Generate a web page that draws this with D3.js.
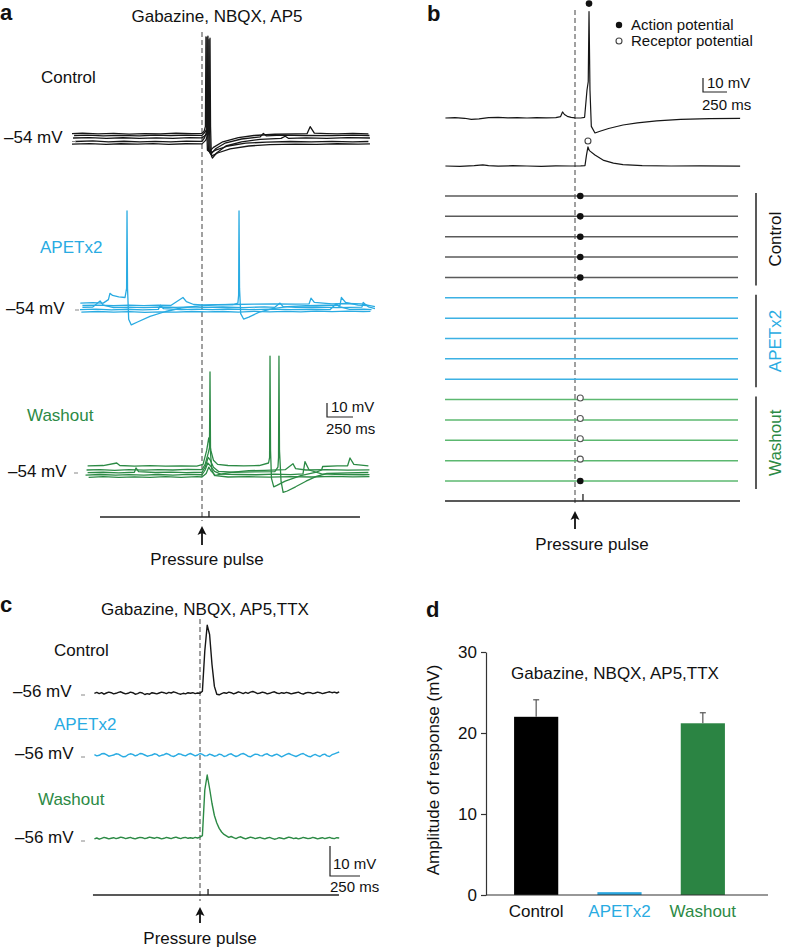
<!DOCTYPE html>
<html><head><meta charset="utf-8">
<script src="https://cdn.jsdelivr.net/npm/d3@7"></script>
<style>body{margin:0;background:#fff;} text{font-family:"Liberation Sans",Arial,Helvetica,sans-serif;}</style>
</head><body>
<script>
// ---------------- DATA ----------------
// Panel a: traces as [time (ms, pulse at 0), membrane potential (mV)]
const ctrlA = [
 [[-1250,-50.2],[-1150,-49.8],[-1000,-50.4],[-850,-50.0],[-700,-50.5],[-550,-50.1],[-400,-50.3],[-250,-49.9],[-100,-50.2],[0,-50.0],[20,-48.5],[33,-45],[38,19],[43,-40],[52,-62],[70,-63],[110,-60],[200,-56],[350,-53],[500,-51.5],[700,-50.6],[900,-50.4],[1010,-50.2],[1040,-45.2],[1080,-49.8],[1200,-50.2],[1300,-50.4],[1450,-50.0],[1600,-50.3]],
 [[-1230,-51.5],[-1100,-51.2],[-950,-51.7],[-800,-51.4],[-600,-51.8],[-450,-51.3],[-300,-51.6],[-150,-51.2],[0,-51.4],[30,-49],[52,-46],[57,19.5],[62,-40],[70,-63],[85,-65],[130,-61],[220,-57],[380,-54],[560,-52.5],[590,-50],[620,-51.8],[760,-51.3],[1000,-51.5],[1250,-51.6],[1450,-51.3],[1610,-51.5]],
 [[-1240,-53.3],[-1080,-53.0],[-920,-53.5],[-760,-53.1],[-600,-53.6],[-440,-53.2],[-280,-53.5],[-120,-53.0],[0,-53.2],[40,-51],[72,-47],[77,18],[82,-45],[90,-66],[100,-67.6],[140,-64],[230,-59],[380,-56],[560,-54.2],[760,-53.6],[800,-52],[830,-53.5],[1000,-53.2],[1200,-53.5],[1400,-53.0],[1615,-53.3]],
 [[-1220,-55.8],[-1050,-55.4],[-900,-56.0],[-750,-55.6],[-600,-56.1],[-450,-55.7],[-300,-56.0],[-150,-55.5],[0,-55.7],[25,-53],[43,-49],[48,18.5],[53,-45],[62,-62],[80,-64],[130,-62],[250,-59],[420,-57],[620,-56.2],[850,-55.8],[1050,-56.1],[1250,-55.7],[1450,-56.0],[1600,-55.8]],
 [[-1250,-57.6],[-1080,-57.3],[-920,-57.8],[-780,-57.4],[-620,-57.7],[-470,-57.3],[-320,-57.8],[-160,-57.4],[0,-57.5],[35,-55],[62,-50],[67,17],[72,-47],[80,-63],[95,-66],[150,-64],[270,-61],[450,-59],[650,-58],[900,-57.6],[1100,-57.8],[1300,-57.4],[1500,-57.7],[1615,-57.5]]
];
const apetA = [
 [[-1170,-50.5],[-1050,-50.2],[-950,-50.5],[-900,-48],[-885,-43.5],[-860,-45],[-800,-46],[-740,-46.5],[-725,-40],[-721,15.3],[-716,-40],[-705,-62],[-680,-66.1],[-620,-64],[-500,-60],[-350,-56.5],[-200,-54],[-20,-52.5],[150,-51.8],[300,-51.5],[500,-51.3],[700,-51],[900,-51.2],[1030,-51],[1048,-47],[1080,-50],[1250,-51],[1400,-50.8],[1530,-51],[1663,-53]],
 [[-1150,-52.2],[-1000,-51.9],[-850,-52.4],[-700,-52.0],[-560,-52.3],[-420,-51.9],[-300,-52.2],[-183,-46.5],[-150,-49.5],[-80,-51.5],[0,-51.8],[150,-51.6],[300,-51.5],[345,-50.5],[352,-45],[356,15.3],[361,-40],[372,-58],[400,-61.9],[450,-60.5],[550,-57],[680,-54.5],[820,-53],[1000,-52.4],[1200,-52.0],[1327,-52.2],[1340,-46.5],[1380,-50],[1500,-52],[1600,-52.3]],
 [[-1150,-53.6],[-1050,-53.3],[-980,-49],[-950,-52],[-850,-53.7],[-700,-53.4],[-560,-53.8],[-400,-53.3],[-250,-53.6],[-100,-53.2],[0,-53.5],[200,-53.3],[400,-53.7],[600,-53.2],[700,-53.5],[750,-50.5],[780,-53],[900,-53.6],[1100,-53.3],[1300,-53.7],[1538,-53.4],[1550,-50],[1600,-53.2],[1663,-54.5]],
 [[-1173,-55.1],[-1020,-54.8],[-870,-55.3],[-720,-54.9],[-570,-55.4],[-420,-55.0],[-400,-52.0],[-370,-54.5],[-200,-55.2],[-50,-54.8],[100,-55.1],[250,-54.7],[450,-55.2],[650,-54.8],[850,-55.1],[1050,-54.9],[1230,-55.2],[1290,-51],[1320,-53],[1420,-55],[1560,-54.8],[1630,-55.1]],
 [[-1160,-56.9],[-1000,-56.5],[-850,-57.0],[-700,-56.6],[-550,-57.1],[-400,-56.7],[-250,-57.0],[-100,-56.5],[50,-56.8],[200,-56.5],[350,-56.9],[500,-56.4],[650,-56.8],[800,-56.4],[950,-56.7],[1100,-56.3],[1250,-56.6],[1400,-56.2],[1550,-56.5],[1620,-56.4]]
];
const washA = [
 [[-1100,-51.1],[-950,-50.8],[-820,-49],[-790,-50.8],[-650,-51.2],[-500,-50.9],[-350,-51.3],[-200,-51.0],[-50,-51.2],[10,-50],[45,-40],[65,-31],[85,-40],[110,-47],[150,-50],[250,-50.8],[400,-51],[550,-50.8],[640,-49],[650,-45],[654,27.4],[659,-40],[668,-60],[690,-66],[720,-65],[800,-62],[950,-58],[1100,-55.5],[1150,-54],[1160,-51.5],[1300,-51],[1400,-51],[1423,-45.4],[1460,-50],[1600,-51]],
 [[-1110,-54],[-980,-53.7],[-840,-54.2],[-700,-53.8],[-560,-54.1],[-420,-53.7],[-280,-54.0],[-140,-53.6],[0,-53.8],[30,-50],[60,-42],[72,-38],[77,16],[82,-42],[95,-54],[120,-58],[180,-57],[300,-55.5],[450,-54.5],[600,-54.2],[800,-53.8],[875,-49.5],[900,-53],[1000,-54],[1200,-53.7],[1400,-54.1],[1610,-53.9]],
 [[-1100,-55.9],[-950,-55.6],[-800,-56.0],[-650,-55.6],[-635,-52.5],[-610,-55.2],[-450,-55.8],[-300,-55.5],[-150,-55.9],[0,-55.6],[30,-52],[60,-45],[80,-47],[110,-52],[160,-55],[300,-55.6],[500,-55.4],[700,-55.2],[730,-52],[736,-45],[740,27.4],[745,-40],[760,-62],[780,-70],[820,-69],[900,-66],[1000,-62],[1100,-58.5],[1200,-56.5],[1400,-56],[1600,-55.8]],
 [[-1120,-57.6],[-980,-57.2],[-830,-57.7],[-700,-57.3],[-560,-57.7],[-420,-57.2],[-280,-57.6],[-140,-57.1],[0,-57.4],[30,-54],[55,-49],[80,-51],[120,-55],[180,-57],[350,-57.2],[520,-57.4],[700,-57.0],[850,-57.3],[971,-56.8],[990,-48],[1030,-54],[1150,-56.8],[1350,-57.2],[1550,-57.4],[1610,-57.3]],
 [[-1090,-59.2],[-950,-58.8],[-800,-59.3],[-650,-58.9],[-500,-59.3],[-350,-58.8],[-200,-59.2],[-50,-58.8],[0,-59.0],[40,-56.5],[65,-52],[90,-55],[130,-58],[250,-59],[450,-58.8],[650,-59.1],[850,-58.7],[1050,-59.0],[1250,-58.6],[1450,-58.9],[1610,-58.7]]
];

// Panel b: example traces [time ms, mV relative to rest]
const apTraceB = [[-1350,0],[-1250,0.3],[-1150,-0.2],[-1080,-1.0],[-1000,-0.6],[-900,0.2],[-800,0.4],[-700,0.1],[-600,0.3],[-500,0],[-400,0.2],[-300,0.1],[-200,0.3],[-150,1],[-130,4.3],[-110,2.5],[-80,1.2],[-40,0.4],[0,0.1],[60,0],[100,0.5],[125,20],[138,26],[146,76],[156,20],[170,-6],[208,-10.7],[260,-9.5],[350,-7.5],[500,-5],[650,-3.5],[850,-2.1],[1100,-1],[1400,-0.4],[1720,-0.3]];
const rpTraceB = [[-1350,0],[-1200,-0.2],[-1050,0.2],[-960,0.8],[-900,0.3],[-800,-0.1],[-650,0.2],[-500,0],[-350,-0.2],[-200,0.1],[-50,0],[60,0.1],[104,0.3],[120,8],[135,13.6],[150,11],[208,7.9],[300,4],[400,2],[500,1],[700,0.3],[1000,0],[1300,0.1],[1720,-0.1]];
const apPeakB = [146, 76];
const rpPeakB = [135, 13.6];
// Raster: 15 trials, group and event type
const rasterGroup = ["Control","Control","Control","Control","Control","APETx2","APETx2","APETx2","APETx2","APETx2","Washout","Washout","Washout","Washout","Washout"];
const rasterEvent = ["AP","AP","AP","AP","AP",null,null,null,null,null,"RP","RP","RP","RP","AP"];
const rasterEventTime = 55;
const groups = ["Control","APETx2","Washout"];

// Panel c: sample times (ms) and traces (mV)
const timesC = [-880,-860,-840,-820,-800,-780,-760,-740,-720,-700,
 -680,-660,-640,-620,-600,-580,-560,-540,-520,-500,
 -480,-460,-440,-420,-400,-380,-360,-340,-320,-300,
 -280,-260,-240,-220,-200,-180,-160,-140,-120,-100,
 -80,-60,-40,-20,0,20,40,60,80,100,
 120,140,160,180,200,220,240,260,280,300,
 320,340,360,380,400,420,440,460,480,500,
 520,540,560,580,600,620,640,660,680,700,
 720,740,760,780,800,820,840,860,880,900,
 920,940,960,980,1000,1020,1040,1060,1080,1100,
 1120,1140,1160];
const ctrlC = [-56.1,-55.8,-56.2,-55.9,-56.4,-56.0,-55.7,-55.9,-56.3,-56.1,
 -55.8,-55.6,-56.0,-56.3,-56.1,-55.7,-55.9,-56.4,-56.2,-55.8,
 -56.0,-56.5,-56.2,-56.4,-55.9,-56.1,-56.3,-56.0,-55.7,-55.9,
 -56.2,-55.8,-56.0,-55.6,-55.9,-56.2,-56.4,-56.1,-56.3,-55.9,
 -56.1,-55.9,-56.2,-56.0,-56.1,-55.4,-42.0,-33.4,-36.5,-46.5,
 -53.8,-56.4,-56.6,-56.2,-55.9,-56.1,-55.7,-55.9,-56.3,-56.0,
 -55.6,-55.9,-56.2,-55.8,-56.1,-55.7,-55.5,-55.8,-56.2,-56.0,
 -55.7,-55.9,-56.3,-56.1,-55.8,-55.6,-56.0,-56.2,-55.9,-56.1,
 -55.8,-56.0,-56.3,-56.1,-55.9,-55.7,-56.1,-56.4,-56.0,-55.8,
 -55.9,-56.2,-56.0,-55.7,-55.9,-56.2,-56.0,-55.8,-55.6,-55.9,
 -55.7,-56.0,-55.6];
const apetC = [-55.9,-56.3,-56.1,-55.6,-55.5,-55.9,-56.4,-56.2,-56.0,-55.6,
 -55.7,-56.2,-56.6,-56.5,-55.9,-55.6,-55.8,-56.3,-56.0,-55.5,
 -55.6,-56.0,-56.4,-56.2,-56.0,-55.6,-55.8,-56.4,-56.1,-55.9,
 -55.5,-55.8,-56.3,-56.5,-56.1,-55.6,-55.7,-56.1,-56.3,-55.8,
 -55.5,-55.9,-56.3,-56.0,-55.5,-55.8,-56.3,-56.2,-55.7,-56.0,
 -56.4,-56.2,-55.7,-55.9,-56.5,-56.3,-55.8,-55.6,-56.1,-56.5,
 -56.2,-55.7,-55.5,-55.9,-56.4,-56.6,-56.1,-55.7,-55.8,-56.2,
 -56.3,-55.8,-55.6,-56.1,-56.4,-56.0,-55.7,-56.1,-56.6,-56.2,
 -55.8,-55.5,-55.9,-56.2,-56.5,-56.1,-55.7,-55.5,-56.0,-56.4,
 -56.6,-56.1,-55.8,-56.2,-56.5,-55.9,-55.7,-56.3,-56.5,-55.9,
 -55.6,-55.3,-55.0];
const washC = [-56.3,-56.0,-56.4,-56.1,-55.8,-56.0,-56.3,-56.1,-55.9,-56.2,
 -56.0,-55.7,-55.9,-56.2,-56.0,-55.8,-56.1,-56.3,-56.0,-55.8,
 -55.9,-56.2,-56.0,-55.7,-55.9,-56.1,-55.8,-56.0,-56.3,-56.1,
 -55.8,-56.0,-56.2,-55.9,-55.7,-56.0,-56.2,-55.9,-55.8,-56.1,
 -55.9,-56.1,-55.8,-56.0,-55.7,-55.2,-40.0,-35.0,-39.5,-44.5,
 -48.5,-51.0,-52.8,-54.0,-54.8,-55.3,-55.8,-55.5,-55.9,-56.2,
 -55.8,-55.6,-56.0,-56.3,-56.0,-55.7,-55.9,-56.2,-56.0,-55.8,
 -56.1,-56.3,-56.0,-55.8,-56.1,-56.4,-56.2,-55.9,-56.1,-56.3,
 -56.0,-55.7,-55.9,-56.2,-56.0,-56.3,-56.1,-55.8,-56.0,-56.2,
 -56.1,-55.8,-56.0,-56.3,-56.1,-55.9,-56.2,-56.0,-55.8,-56.1,
 -56.2,-55.9,-56.0];

// Panel d: bar chart
const barCats = ["Control","APETx2","Washout"];
const barMeans = [22.0, 0.35, 21.2];
const barErr = [2.1, 0, 1.3];
const yTicksD = [0,10,20,30];

// ---------------- STYLE ----------------
const BLACK = "#161616", BLUE = "#29abe2", GREEN = "#2c8a45";
const rasterColor = {Control:"#5a5a5a", APETx2:"#3cb1e4", Washout:"#5cb870"};
const labelColor = {Control:"#111", APETx2:BLUE, Washout:GREEN};
const barColor = ["#000000", "#2aa6df", "#2b8443"];

const svg = d3.select("body").append("svg").attr("width",786).attr("height",948);

function text(x, y, s, o={}) {
  const t = svg.append("text").attr("x",x).attr("y",y).text(s)
    .attr("font-size", o.size||17).attr("fill", o.color||"#111")
    .attr("text-anchor", o.anchor||"start");
  if (o.bold) t.attr("font-weight","bold");
  if (o.rotate) t.attr("transform",`rotate(-90,${x},${y})`).attr("dominant-baseline","middle");
  return t;
}
function hline(x1,x2,y,c="#222",w=1.2){svg.append("line").attr("x1",x1).attr("x2",x2).attr("y1",y).attr("y2",y).attr("stroke",c).attr("stroke-width",w);}
function vline(x,y1,y2,c="#222",w=1.2){svg.append("line").attr("x1",x).attr("x2",x).attr("y1",y1).attr("y2",y2).attr("stroke",c).attr("stroke-width",w);}
function dashed(x,y1,y2){svg.append("line").attr("x1",x).attr("x2",x).attr("y1",y1).attr("y2",y2).attr("stroke","#6e6e6e").attr("stroke-width",1.3).attr("stroke-dasharray","5,3");}
function arrow(x,tip,bottom){
  svg.append("path").attr("d",`M${x},${tip} L${x-4.5},${tip+9} L${x},${tip+7} L${x+4.5},${tip+9} Z`).attr("fill","#111");
  vline(x,tip+6,bottom,"#111",1.8);
}
function scaleBar(x0,yBottom,w,h,lab1,lab2,l1x,l1y,l2x,l2y){
  svg.append("path").attr("d",`M${x0},${yBottom-h} L${x0},${yBottom} L${x0+w},${yBottom}`).attr("fill","none").attr("stroke","#222").attr("stroke-width",1.2);
  text(l1x,l1y,lab1,{size:15}); text(l2x,l2y,lab2,{size:15});
}
function drawTraces(traces, line, color, w=1.3){
  svg.append("g").selectAll("path").data(traces).join("path")
    .attr("d", d=>line(d)).attr("fill","none").attr("stroke",color)
    .attr("stroke-width",w).attr("stroke-linejoin","round");
}

// ---------------- PANEL A ----------------
const xA = d3.scaleLinear().domain([0,250]).range([202,228]);
const yAof = base => d3.scaleLinear().domain([-54,-44]).range([base, base-14]);
text(0,20,"a",{size:22,bold:true});
text(217,22,"Gabazine, NBQX, AP5",{anchor:"middle"});
dashed(xA(0),32,521);
const panelA = [
  {traces:ctrlA, color:BLACK, base:139, label:"Control", lx:41, ly:83, vx:4, vy:143, tx:72, ty:141.5},
  {traces:apetA, color:BLUE, base:308, label:"APETx2", lx:40, ly:253, vx:6, vy:314, tx:75, ty:310},
  {traces:washA, color:GREEN, base:470, label:"Washout", lx:27, ly:421, vx:8, vy:477, tx:74, ty:473}
];
panelA.forEach(p=>{
  const y = yAof(p.base);
  const line = d3.line().x(d=>xA(d[0])).y(d=>y(d[1]));
  drawTraces(p.traces, line, p.color, 1.3);
  text(p.lx,p.ly,p.label,{color:labelColor[p.label]});
  text(p.vx,p.vy,"–54 mV");
  hline(p.tx,p.tx+4,p.ty,"#888",1);
});
{
  const y = yAof(470);
  scaleBar(327,417,xA(250)-xA(0),y(-54)-y(-44),"10 mV","250 ms",331,412,326,434);
}
hline(xA(-981),xA(1519),517,"#222",1.3);
vline(xA(67),511,517,"#222",1.3);
arrow(xA(0),526,545);
text(207,565,"Pressure pulse",{anchor:"middle"});

// ---------------- PANEL B ----------------
const xB = d3.scaleLinear().domain([0,250]).range([575,599]);
const yBof = base => d3.scaleLinear().domain([0,10]).range([base, base-14]);
text(427,21,"b",{size:22,bold:true});
dashed(xB(0),10,504);
{
  const y1 = yBof(118), y2 = yBof(166);
  drawTraces([apTraceB], d3.line().x(d=>xB(d[0])).y(d=>y1(d[1])), BLACK, 1.2);
  drawTraces([rpTraceB], d3.line().x(d=>xB(d[0])).y(d=>y2(d[1])), BLACK, 1.2);
  svg.append("circle").attr("cx",xB(apPeakB[0])).attr("cy",y1(apPeakB[1])-8).attr("r",3.3).attr("fill","#111");
  svg.append("circle").attr("cx",xB(rpPeakB[0])).attr("cy",y2(rpPeakB[1])-6).attr("r",3).attr("fill","#fff").attr("stroke","#444").attr("stroke-width",1.1);
  scaleBar(703,92,xB(250)-xB(0),y1(0)-y1(10),"10 mV","250 ms",707,88,702,110);
}
// legend
svg.append("circle").attr("cx",619).attr("cy",25).attr("r",3.2).attr("fill","#111");
text(631,30,"Action potential",{size:15});
svg.append("circle").attr("cx",619).attr("cy",41).attr("r",3).attr("fill","#fff").attr("stroke","#444").attr("stroke-width",1.1);
text(631,46,"Receptor potential",{size:15});
// raster
const rowY = d3.scalePoint().domain(d3.range(rasterGroup.length)).range([196,481]);
const rasterStart = -1354, rasterEnd = 1698;
svg.append("g").selectAll("line").data(rasterGroup).join("line")
  .attr("x1",xB(rasterStart)).attr("x2",xB(rasterEnd))
  .attr("y1",(d,i)=>rowY(i)).attr("y2",(d,i)=>rowY(i))
  .attr("stroke",d=>rasterColor[d]).attr("stroke-width",1.5);
svg.append("g").selectAll("circle").data(rasterEvent.map((e,i)=>({e,i})).filter(d=>d.e)).join("circle")
  .attr("cx",xB(rasterEventTime)).attr("cy",d=>rowY(d.i)-(d.e==="RP"?1.5:0))
  .attr("r",d=>d.e==="AP"?3.3:3)
  .attr("fill",d=>d.e==="AP"?"#111":"#fff").attr("stroke",d=>d.e==="AP"?"none":"#555").attr("stroke-width",1.1);
groups.forEach(g=>{
  const idx = rasterGroup.map((d,i)=>d===g?i:-1).filter(i=>i>=0);
  const top = rowY(idx[0])-3, bot = rowY(idx[idx.length-1])+8;
  vline(756,top,bot,"#222",1.5);
  text(777,(top+bot)/2,g,{size:17,color:labelColor[g],rotate:true,anchor:"middle"});
});
hline(xB(-1354),xB(1719),501,"#222",1.3);
vline(xB(83),494,501,"#222",1.3);
arrow(xB(0),511,529);
text(592,550,"Pressure pulse",{anchor:"middle"});

// ---------------- PANEL C ----------------
const xC = d3.scaleLinear().domain([0,250]).range([200,230]);
const yCof = base => d3.scaleLinear().domain([-56,-46]).range([base, base-30]);
text(0,612,"c",{size:22,bold:true});
text(205,615,"Gabazine, NBQX, AP5,TTX",{anchor:"middle"});
dashed(xC(0),619,901);
const panelC = [
  {vals:ctrlC, color:BLACK, base:693, label:"Control", lx:54, ly:656, vx:13, vy:697, ty:695},
  {vals:apetC, color:BLUE, base:755, label:"APETx2", lx:54, ly:730, vx:15, vy:759, ty:757},
  {vals:washC, color:GREEN, base:838, label:"Washout", lx:38, ly:805, vx:15, vy:843, ty:841}
];
panelC.forEach(p=>{
  const y = yCof(p.base);
  const line = d3.line().x((d,i)=>xC(timesC[i])).y(d=>y(d));
  drawTraces([p.vals], line, p.color, 1.4);
  text(p.lx,p.ly,p.label,{color:labelColor[p.label]});
  text(p.vx,p.vy,"–56 mV");
  hline(81,85,p.ty,"#888",1);
});
{
  const y = yCof(838);
  scaleBar(330,876,xC(250)-xC(0),y(-56)-y(-46),"10 mV","250 ms",333,869,330,892);
}
hline(xC(-892),xC(1158),895,"#222",1.3);
vline(xC(67),889,895,"#222",1.3);
arrow(xC(0),907,923);
text(200,944,"Pressure pulse",{anchor:"middle"});

// ---------------- PANEL D ----------------
text(426,617,"d",{size:22,bold:true});
const yD = d3.scaleLinear().domain([0,30]).range([895,652]);
const xD = d3.scaleBand().domain(barCats).range([494.5,744.5]).paddingInner(0.47).paddingOuter(0.235);
const gD = svg.append("g");
gD.selectAll("rect").data(barCats).join("rect")
  .attr("x",d=>xD(d)).attr("width",xD.bandwidth())
  .attr("y",(d,i)=>yD(barMeans[i])).attr("height",(d,i)=>yD(0)-yD(barMeans[i]))
  .attr("fill",(d,i)=>barColor[i]);
barCats.forEach((c,i)=>{
  if(barErr[i]>0){
    const cx = xD(c)+xD.bandwidth()/2;
    vline(cx,yD(barMeans[i]),yD(barMeans[i]+barErr[i]),"#555",1.2);
    hline(cx-3,cx+3,yD(barMeans[i]+barErr[i]),"#555",1.2);
  }
});
const axD = svg.append("g").attr("transform","translate(486,0)")
  .call(d3.axisLeft(yD).tickValues(yTicksD).tickSize(5).tickSizeOuter(0).tickPadding(4));
axD.selectAll("text").attr("font-size",17).attr("fill","#111").attr("font-family","Liberation Sans, Arial, sans-serif");
axD.selectAll("line,path").attr("stroke","#333").attr("stroke-width",1.2);
hline(486,768,895,"#333",1.2);
barCats.forEach((c,i)=>{
  text(xD(c)+xD.bandwidth()/2, 917, c, {anchor:"middle", color:labelColor[c]});
});
text(615,679,"Gabazine, NBQX, AP5,TTX",{anchor:"middle"});
text(435,770,"Amplitude of response (mV)",{rotate:true,anchor:"middle"});
</script>
</body></html>
